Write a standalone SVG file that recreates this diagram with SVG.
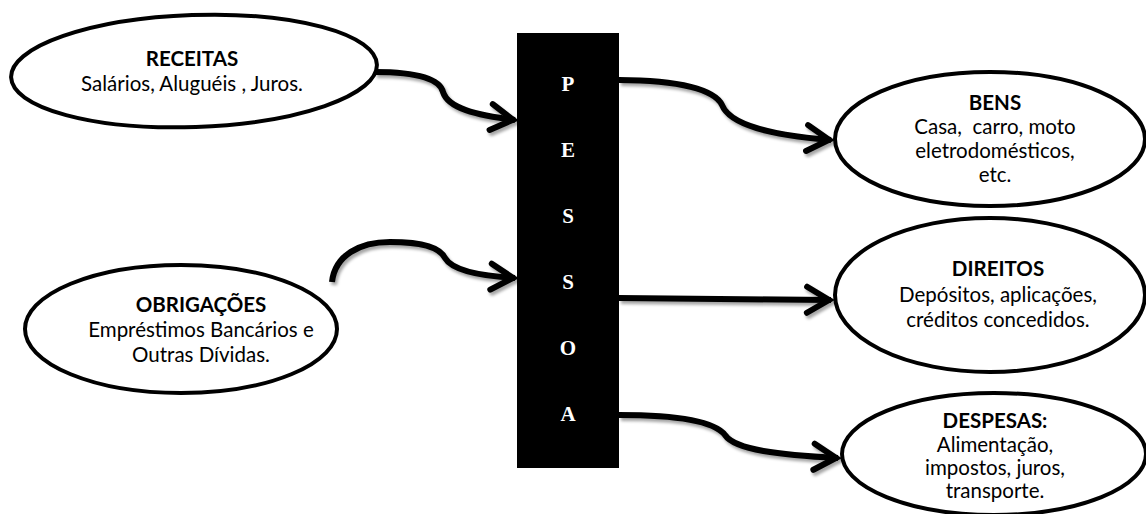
<svg xmlns="http://www.w3.org/2000/svg" width="1146" height="514" viewBox="0 0 1146 514">
<style>
.ell{fill:#fff;stroke:#000;stroke-width:4}
.t{font-family:Lato,"Noto Sans",sans-serif;font-size:20.5px;fill:#000;text-anchor:middle;white-space:pre}
.b{font-weight:bold}
.lt{font-family:"Liberation Serif",serif;font-size:21px;font-weight:bold;fill:#fff;text-anchor:middle}
.con{fill:none;stroke:#000;stroke-width:6;filter:url(#sh)}
</style>
<defs>
<filter id="sh" filterUnits="userSpaceOnUse" x="0" y="0" width="1146" height="514">
<feDropShadow dx="2" dy="3" stdDeviation="1.8" flood-color="#000" flood-opacity="0.35"/>
</filter>
<marker id="arr" viewBox="0 0 34 36" refX="29" refY="18" markerWidth="34" markerHeight="36" markerUnits="userSpaceOnUse" orient="auto">
<path d="M5,5 L27,18 L5,31" fill="none" stroke="#000" stroke-width="6" stroke-linecap="round" stroke-linejoin="miter"/>
</marker>
</defs>
<g id="connectors">
<path class="con" marker-end="url(#arr)" d="M375,72 C420,72 440,80 443,92 C448,108 475,115 515,120"/>
<path class="con" marker-end="url(#arr)" d="M332,282 C335,255 360,242 390,242 C425,242 440,248 445,258 C452,270 480,276 515,278"/>
<path class="con" marker-end="url(#arr)" d="M619,80 C680,80 715,90 722,105 C730,125 770,135 831,140"/>
<path class="con" marker-end="url(#arr)" d="M619,298 L831,300"/>
<path class="con" marker-end="url(#arr)" d="M619,415 C680,415 715,422 725,435 C735,450 780,455 838,458"/>
</g>
<g id="receitas">
<ellipse class="ell" cx="194" cy="71" rx="183" ry="56" transform="rotate(-2 194 71)"/>
<text class="t b" x="192" y="66">RECEITAS</text>
<text class="t" x="192" y="91">Salários, Aluguéis , Juros.</text>
</g>
<g id="obrigacoes">
<ellipse class="ell" cx="181" cy="329" rx="156" ry="64"/>
<text class="t b" x="201" y="312">OBRIGAÇÕES</text>
<text class="t" x="201" y="337">Empréstimos Bancários e</text>
<text class="t" x="201" y="362">Outras Dívidas.</text>
</g>
<g id="pessoa">
<rect x="517" y="33" width="102" height="435" fill="#000"/>
<text class="lt" x="568" y="91">P</text>
<text class="lt" x="568" y="157">E</text>
<text class="lt" x="568" y="223">S</text>
<text class="lt" x="568" y="289">S</text>
<text class="lt" x="568" y="355">O</text>
<text class="lt" x="568" y="421">A</text>
</g>
<g id="bens">
<ellipse class="ell" cx="990" cy="139" rx="155" ry="67"/>
<text class="t b" x="995" y="110">BENS</text>
<text class="t" x="995" y="134">Casa,  carro, moto</text>
<text class="t" x="995" y="158">eletrodomésticos,</text>
<text class="t" x="995" y="182">etc.</text>
</g>
<g id="direitos">
<ellipse class="ell" cx="990" cy="295" rx="155" ry="77"/>
<text class="t b" x="998" y="276">DIREITOS</text>
<text class="t" x="998" y="302">Depósitos, aplicações,</text>
<text class="t" x="998" y="327">créditos concedidos.</text>
</g>
<g id="despesas">
<ellipse class="ell" cx="994" cy="454" rx="152" ry="61"/>
<text class="t b" x="995" y="428">DESPESAS:</text>
<text class="t" x="995" y="452">Alimentação,</text>
<text class="t" x="995" y="475">impostos, juros,</text>
<text class="t" x="995" y="498">transporte.</text>
</g>
</svg>
